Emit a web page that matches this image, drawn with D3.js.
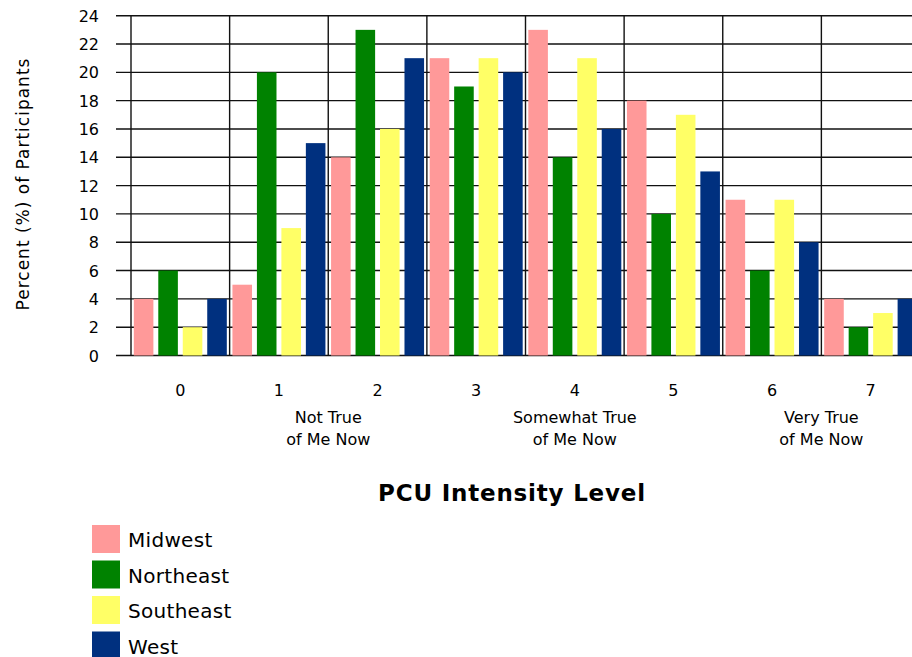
<!DOCTYPE html>
<html>
<head>
<meta charset="utf-8">
<script src="https://cdn.jsdelivr.net/npm/d3@7/dist/d3.min.js"></script>
<style>
  body { margin: 0; background: #fff; }
  text { font-family: "DejaVu Sans", sans-serif; fill: #000; }
</style>
</head>
<body>
<div id="chart"></div>
<script>
// data
const levels = ["0", "1", "2", "3", "4", "5", "6", "7"];
const regions = ["Midwest", "Northeast", "Southeast", "West"];
const midwest   = [4, 5, 14, 21, 23, 18, 11, 4];
const northeast = [6, 20, 23, 19, 14, 10, 6, 2];
const southeast = [2, 9, 16, 21, 21, 17, 11, 3];
const west      = [4, 15, 21, 20, 16, 13, 8, 4];
const yTicks = [0, 2, 4, 6, 8, 10, 12, 14, 16, 18, 20, 22, 24];
const anchors = [
    { pos: 1.5, lines: ["Not True", "of Me Now"] },
    { pos: 4, lines: ["Somewhat True", "of Me Now"] },
    { pos: 6.5, lines: ["Very True", "of Me Now"] }
];

const colors = ["#ff9999", "#008200", "#ffff66", "#00307f"];
const seriesValues = [midwest, northeast, southeast, west];

const W = 912, H = 657;
const plotLeft = 131, plotRight = 920, plotTop = 15.7, plotBottom = 355.5;

const svg = d3.select("#chart").append("svg")
    .attr("width", W).attr("height", H);

const x = d3.scaleBand().domain(levels).range([plotLeft, plotRight]);
const xs = d3.scaleBand().domain(regions).range([0, x.bandwidth()])
    .paddingInner(0.2).paddingOuter(0.115);
const xPos = d3.scaleLinear().domain([-0.5, levels.length - 0.5]).range([plotLeft, plotRight]);
const y = d3.scaleLinear().domain([0, 24]).range([plotBottom, plotTop]);

// horizontal grid lines (with tick stubs on the left)
svg.append("g").selectAll("line")
    .data(yTicks).enter().append("line")
    .attr("x1", 116).attr("x2", W)
    .attr("y1", d => y(d)).attr("y2", d => y(d))
    .attr("stroke", "#111").attr("stroke-width", 1.4);

// vertical grid lines at category boundaries
svg.append("g").selectAll("line")
    .data(levels).enter().append("line")
    .attr("x1", d => x(d)).attr("x2", d => x(d))
    .attr("y1", y(24)).attr("y2", y(0))
    .attr("stroke", "#111").attr("stroke-width", 1.4);

// bars
const rows = [];
levels.forEach((lv, i) => {
    regions.forEach((r, j) => rows.push({ level: lv, region: r, value: seriesValues[j][i], c: colors[j] }));
});
svg.append("g").selectAll("rect")
    .data(rows).enter().append("rect")
    .attr("x", d => x(d.level) + xs(d.region))
    .attr("y", d => y(d.value))
    .attr("width", xs.bandwidth())
    .attr("height", d => y(0) - y(d.value))
    .attr("fill", d => d.c);

// y tick labels
svg.append("g").selectAll("text")
    .data(yTicks).enter().append("text")
    .attr("x", 99).attr("y", d => y(d) + 6)
    .attr("text-anchor", "end")
    .style("font-size", "16px")
    .text(d => d);

// y axis title
svg.append("text")
    .attr("transform", "translate(29,184) rotate(-90)")
    .attr("text-anchor", "middle")
    .style("font-size", "17px")
    .style("letter-spacing", "1px")
    .text("Percent (%) of Participants");

// x tick labels
svg.append("g").selectAll("text")
    .data(levels).enter().append("text")
    .attr("x", d => x(d) + x.bandwidth() / 2)
    .attr("y", 396)
    .attr("text-anchor", "middle")
    .style("font-size", "16px")
    .text(d => d);

// scale anchor labels
anchors.forEach(a => {
    a.lines.forEach((ln, k) => {
        svg.append("text")
            .attr("x", xPos(a.pos)).attr("y", 423 + k * 22)
            .attr("text-anchor", "middle")
            .style("font-size", "16px")
            .text(ln);
    });
});

// x axis title
svg.append("text")
    .attr("x", 512).attr("y", 501)
    .attr("text-anchor", "middle")
    .style("font-size", "23px")
    .style("font-weight", "bold")
    .style("letter-spacing", "0.8px")
    .text("PCU Intensity Level");

// legend
const legend = svg.append("g").selectAll("g")
    .data(regions).enter().append("g")
    .attr("transform", (d, i) => `translate(92,${525 + i * 35.5})`);
legend.append("rect")
    .attr("width", 28).attr("height", 28)
    .attr("fill", (d, i) => colors[i]);
legend.append("text")
    .attr("x", 36).attr("y", 22)
    .style("font-size", "20px")
    .style("letter-spacing", "0.3px")
    .text(d => d);
</script>
</body>
</html>
